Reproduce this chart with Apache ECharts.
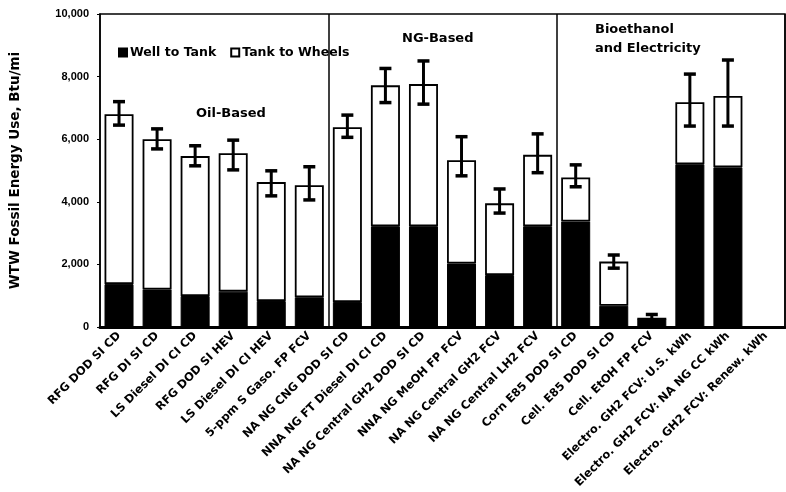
<!DOCTYPE html>
<html><head><meta charset="utf-8">
<script src="https://cdn.jsdelivr.net/npm/echarts@6/dist/echarts.min.js"></script>
<style>html,body{margin:0;padding:0;background:#fff}#c{width:786px;height:492px}</style>
</head><body><div id="c"></div>
<script>
const categories = [
  "RFG DOD SI CD", "RFG DI SI CD", "LS Diesel DI CI CD", "RFG DOD SI HEV",
  "LS Diesel DI CI HEV", "5-ppm S Gaso. FP FCV",
  "NA NG CNG DOD SI CD", "NNA NG FT Diesel DI CI CD", "NA NG Central GH2 DOD SI CD",
  "NNA NG MeOH FP FCV", "NA NG Central GH2 FCV", "NA NG Central LH2 FCV",
  "Corn E85 DOD SI CD", "Cell. E85 DOD SI CD", "Cell. EtOH FP FCV",
  "Electro. GH2 FCV: U.S. kWh", "Electro. GH2 FCV: NA NG CC kWh", "Electro. GH2 FCV: Renew. kWh"
];
const wellToTank   = [1370, 1200, 990, 1130, 830, 950, 800, 3220, 3220, 2030, 1660, 3220, 3370, 680, 270, 5200, 5100, 0];
const tankToWheels = [5430, 4800, 4470, 4420, 3800, 3580, 5580, 4500, 4540, 3300, 2290, 2280, 1410, 1410, 0, 1980, 2280, 0];
const errLow  = [6450, 5690, 5150, 5020, 4190, 4060, 6060, 7170, 7120, 4830, 3640, 4930, 4480, 1880, 230, 6420, 6420, null];
const errHigh = [7200, 6330, 5790, 5970, 4990, 5120, 6770, 8260, 8500, 6080, 4410, 6170, 5180, 2300, 400, 8080, 8530, null];
const yTicks = [0, 2000, 4000, 6000, 8000, 10000];
const groupLabels = ["Oil-Based", "NG-Based", "Bioethanol\nand Electricity"];
const legendNames = ["Well to Tank", "Tank to Wheels"];

const font = "Liberation Sans";
const heavy = "DejaVu Sans";
const errData = categories.map((c, i) => [i, errLow[i], errHigh[i]]).filter(d => d[1] != null);

const chart = echarts.init(document.getElementById('c'));
chart.setOption({
  animation: false,
  textStyle: { fontFamily: font, color: '#000' },
  grid: { left: 99, right: 1, top: 14, bottom: 165, show: true, borderColor: '#000', borderWidth: 1.5 },
  legend: {
    data: legendNames, left: 113, top: 41, icon: 'rect', itemWidth: 8, itemHeight: 8, itemGap: 14,
    textStyle: { fontFamily: heavy, fontWeight: 'bold', fontSize: 12.5, color: '#000', padding: [0, 0, 0, -2] }
  },
  xAxis: {
    type: 'category', data: categories,
    axisLine: { lineStyle: { color: '#000', width: 3 } },
    axisTick: { show: false },
    axisLabel: { rotate: 45, interval: 0, margin: 7, fontFamily: heavy, fontWeight: 'bold', fontSize: 11.5, color: '#000' },
    splitLine: { show: true, interval: (i) => i === 6 || i === 12, lineStyle: { color: '#000', width: 1.5 } }
  },
  yAxis: {
    type: 'value', min: yTicks[0], max: yTicks[yTicks.length - 1], interval: 2000,
    name: 'WTW Fossil Energy Use, Btu/mi', nameLocation: 'middle', nameGap: 78,
    nameTextStyle: { fontFamily: heavy, fontWeight: 'bold', fontSize: 13.5, color: '#000' },
    axisLine: { show: true, lineStyle: { color: '#000', width: 1.5 } },
    axisTick: { show: true, length: 3, lineStyle: { color: '#000' } },
    splitLine: { show: false },
    axisLabel: { margin: 11, fontFamily: font, fontWeight: 'bold', fontSize: 11, color: '#000',
      formatter: v => v.toLocaleString('en-US') }
  },
  series: [
    { name: legendNames[0], type: 'bar', stack: 'tot', data: wellToTank, barWidth: 29,
      itemStyle: { color: '#000', borderColor: '#000', borderWidth: 1 } },
    { name: legendNames[1], type: 'bar', stack: 'tot', data: tankToWheels, barWidth: 29,
      itemStyle: { color: '#fff', borderColor: '#000', borderWidth: 1.8 } },
    { name: 'err', type: 'custom', data: errData, z: 10,
      renderItem: (params, api) => {
        const x = api.value(0);
        const lo = api.coord([x, api.value(1)]);
        const hi = api.coord([x, api.value(2)]);
        const w = 6;
        const st = { stroke: '#000', lineWidth: 3.5 };
        return { type: 'group', children: [
          { type: 'line', shape: { x1: lo[0], y1: lo[1], x2: hi[0], y2: hi[1] }, style: { stroke: '#000', lineWidth: 3 } },
          { type: 'line', shape: { x1: lo[0] - w, y1: lo[1], x2: lo[0] + w, y2: lo[1] }, style: st },
          { type: 'line', shape: { x1: hi[0] - w, y1: hi[1], x2: hi[0] + w, y2: hi[1] }, style: st }
        ]};
      }
    }
  ],
  graphic: [
    { type: 'text', left: 196, top: 107, style: { text: groupLabels[0], font: 'bold 13px "DejaVu Sans"', fill: '#000' } },
    { type: 'text', left: 402, top: 32, style: { text: groupLabels[1], font: 'bold 13px "DejaVu Sans"', fill: '#000' } },
    { type: 'text', left: 595, top: 20, style: { text: groupLabels[2], font: 'bold 13px "DejaVu Sans"', fill: '#000', lineHeight: 19 } }
  ]
});
</script></body></html>
